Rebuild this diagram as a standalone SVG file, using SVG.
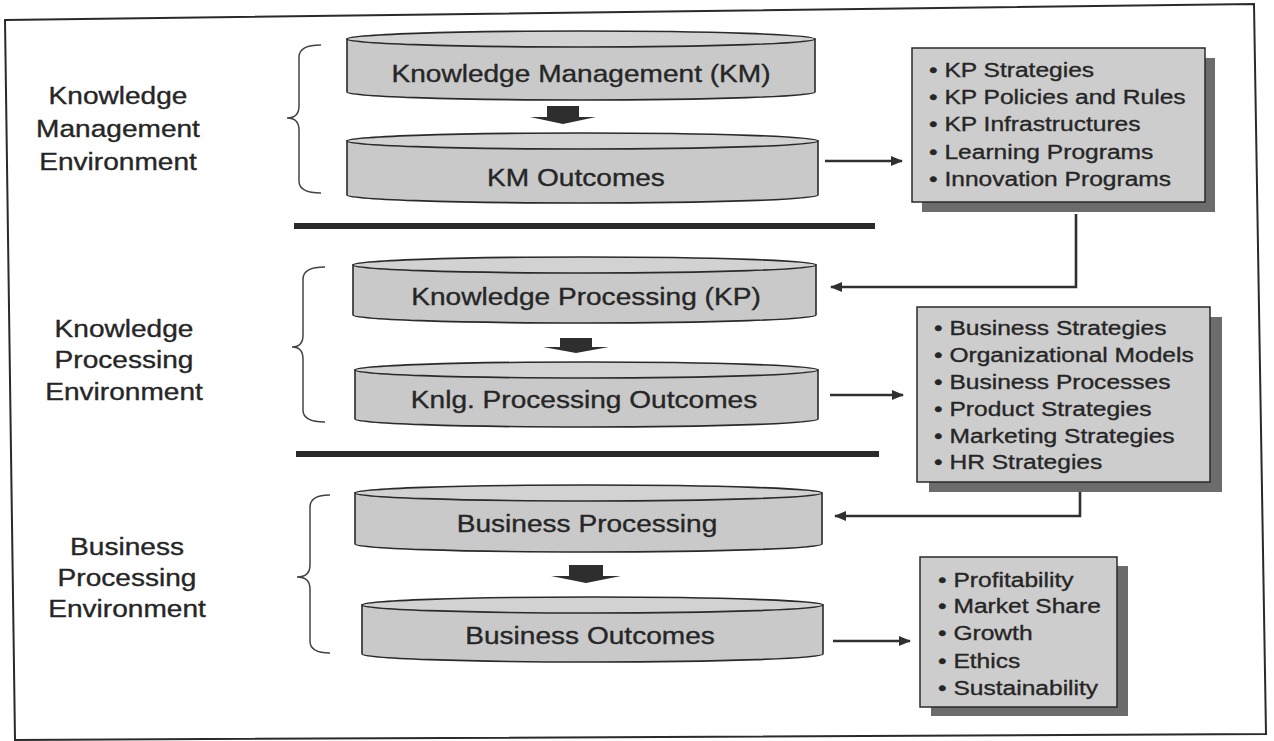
<svg xmlns="http://www.w3.org/2000/svg" width="1274" height="741" viewBox="0 0 1274 741">
<style>
.frame{fill:#fff;stroke:#2a2a2a;stroke-width:2}
.cyl{fill:#c9c9c9;stroke:#2a2a2a;stroke-width:1.6}
.cyltop{fill:#d2d2d2;stroke:#2a2a2a;stroke-width:1.6}
.box{fill:#cdcdcd;stroke:#2a2a2a;stroke-width:1.5}
.shadow{fill:#6c6c6c}
.sep{stroke:#2a2a2a;stroke-width:6}
.conn{stroke:#303030;stroke-width:2.6;fill:none;marker-end:url(#ah)}
.brace{stroke:#444;stroke-width:1.5;fill:none}
.blk{fill:#2e2e2e}
.t{font-family:"Liberation Sans",Arial,sans-serif;font-size:24px;fill:#262626;stroke:#262626;stroke-width:0.35}
.b{font-size:21px}
.m{text-anchor:middle}
</style>
<defs>
<marker id="ah" markerUnits="userSpaceOnUse" markerWidth="12" markerHeight="10" refX="11" refY="5" orient="auto">
<path d="M0,0 L12,5 L0,10 Z" fill="#303030"/>
</marker>
</defs>
<polygon class="frame" points="5,20 1254,4 1266,734 15,740"/>

<g id="labels">
<g id="label-km">
<text class="t m" transform="translate(118,104) scale(1.17,1)">Knowledge</text>
<text class="t m" transform="translate(118,137) scale(1.17,1)">Management</text>
<text class="t m" transform="translate(118,170) scale(1.17,1)">Environment</text>
</g>
<g id="label-kp">
<text class="t m" transform="translate(124,337) scale(1.17,1)">Knowledge</text>
<text class="t m" transform="translate(124,368) scale(1.17,1)">Processing</text>
<text class="t m" transform="translate(124,400) scale(1.17,1)">Environment</text>
</g>
<g id="label-bp">
<text class="t m" transform="translate(127,555) scale(1.17,1)">Business</text>
<text class="t m" transform="translate(127,586) scale(1.17,1)">Processing</text>
<text class="t m" transform="translate(127,617) scale(1.17,1)">Environment</text>
</g>
</g>

<g id="braces">
<path class="brace" d="M321,45 Q299,45 299,57 L299,106 Q299,118 287,118 Q299,118 299,130 L299,181 Q299,193 321,193"/>
<path class="brace" d="M325,267 Q303,267 303,279 L303,335 Q303,347 292,347 Q303,347 303,359 L303,410 Q303,422 325,422"/>
<path class="brace" d="M330,495 Q310,495 310,507 L310,565 Q310,577 297,577 Q310,577 310,589 L310,641 Q310,653 330,653"/>
</g>

<g id="separators">
<line class="sep" x1="294" y1="226" x2="875" y2="226"/>
<line class="sep" x1="296" y1="454" x2="879" y2="454"/>
</g>

<g id="km">
<path class="cyl" d="M347,39 L347,92 A234,8 0 0 0 815,92 L815,39 Z"/>
<ellipse class="cyltop" cx="581" cy="39" rx="234" ry="8"/>
<text class="t m" transform="translate(581,82) scale(1.17,1)">Knowledge Management (KM)</text>
</g>
<g id="km-outcomes">
<path class="cyl" d="M347,141 L347,195 A235.5,8 0 0 0 818,195 L818,141 Z"/>
<ellipse class="cyltop" cx="582.5" cy="141" rx="235.5" ry="8"/>
<text class="t m" transform="translate(576,186) scale(1.17,1)">KM Outcomes</text>
</g>
<g id="kp">
<path class="cyl" d="M353,265 L353,315 A231.5,8 0 0 0 816,315 L816,265 Z"/>
<ellipse class="cyltop" cx="584.5" cy="265" rx="231.5" ry="8"/>
<text class="t m" transform="translate(586,305) scale(1.17,1)">Knowledge Processing (KP)</text>
</g>
<g id="kp-outcomes">
<path class="cyl" d="M355,370 L355,419 A231.5,8 0 0 0 818,419 L818,370 Z"/>
<ellipse class="cyltop" cx="586.5" cy="370" rx="231.5" ry="8"/>
<text class="t m" transform="translate(584,408) scale(1.17,1)">Knlg. Processing Outcomes</text>
</g>
<g id="bp">
<path class="cyl" d="M355,493 L355,544 A233.5,8 0 0 0 822,544 L822,493 Z"/>
<ellipse class="cyltop" cx="588.5" cy="493" rx="233.5" ry="8"/>
<text class="t m" transform="translate(587,532) scale(1.17,1)">Business Processing</text>
</g>
<g id="bp-outcomes">
<path class="cyl" d="M362,605 L362,654 A230.5,8 0 0 0 823,654 L823,605 Z"/>
<ellipse class="cyltop" cx="592.5" cy="605" rx="230.5" ry="8"/>
<text class="t m" transform="translate(590,644) scale(1.17,1)">Business Outcomes</text>
</g>

<g id="box-km">
<rect class="shadow" x="922" y="58" width="293" height="154"/>
<rect class="box" x="912" y="48" width="293" height="154"/>
<text class="t b" transform="translate(929,77) scale(1.17,1)">• KP Strategies</text>
<text class="t b" transform="translate(929,104) scale(1.17,1)">• KP Policies and Rules</text>
<text class="t b" transform="translate(929,131) scale(1.17,1)">• KP Infrastructures</text>
<text class="t b" transform="translate(929,159) scale(1.17,1)">• Learning Programs</text>
<text class="t b" transform="translate(929,186) scale(1.17,1)">• Innovation Programs</text>
</g>
<g id="box-kp">
<rect class="shadow" x="929" y="317" width="293" height="175"/>
<rect class="box" x="917" y="307" width="293" height="175"/>
<text class="t b" transform="translate(934,335) scale(1.17,1)">• Business Strategies</text>
<text class="t b" transform="translate(934,362) scale(1.17,1)">• Organizational Models</text>
<text class="t b" transform="translate(934,389) scale(1.17,1)">• Business Processes</text>
<text class="t b" transform="translate(934,416) scale(1.17,1)">• Product Strategies</text>
<text class="t b" transform="translate(934,443) scale(1.17,1)">• Marketing Strategies</text>
<text class="t b" transform="translate(934,469) scale(1.17,1)">• HR Strategies</text>
</g>
<g id="box-bp">
<rect class="shadow" x="931" y="566" width="197" height="150"/>
<rect class="box" x="920" y="557" width="197" height="150"/>
<text class="t b" transform="translate(938,587) scale(1.17,1)">• Profitability</text>
<text class="t b" transform="translate(938,613) scale(1.17,1)">• Market Share</text>
<text class="t b" transform="translate(938,640) scale(1.17,1)">• Growth</text>
<text class="t b" transform="translate(938,668) scale(1.17,1)">• Ethics</text>
<text class="t b" transform="translate(938,695) scale(1.17,1)">• Sustainability</text>
</g>

<g id="connectors">
<polygon class="blk" points="547,106 579,106 579,117 596,117 563,124 530,117 547,117"/>
<polygon class="blk" points="560,338 592,338 592,347 609,347 576,353 543,347 560,347"/>
<polygon class="blk" points="569,565 603,565 603,576 621,576 586,583 551,576 569,576"/>
<path class="conn" d="M825,161 H902"/>
<path class="conn" d="M1076,214 V287 H831"/>
<path class="conn" d="M830,395 H903"/>
<path class="conn" d="M1080,492 V516 H835"/>
<path class="conn" d="M833,641 H910"/>
</g>
</svg>
